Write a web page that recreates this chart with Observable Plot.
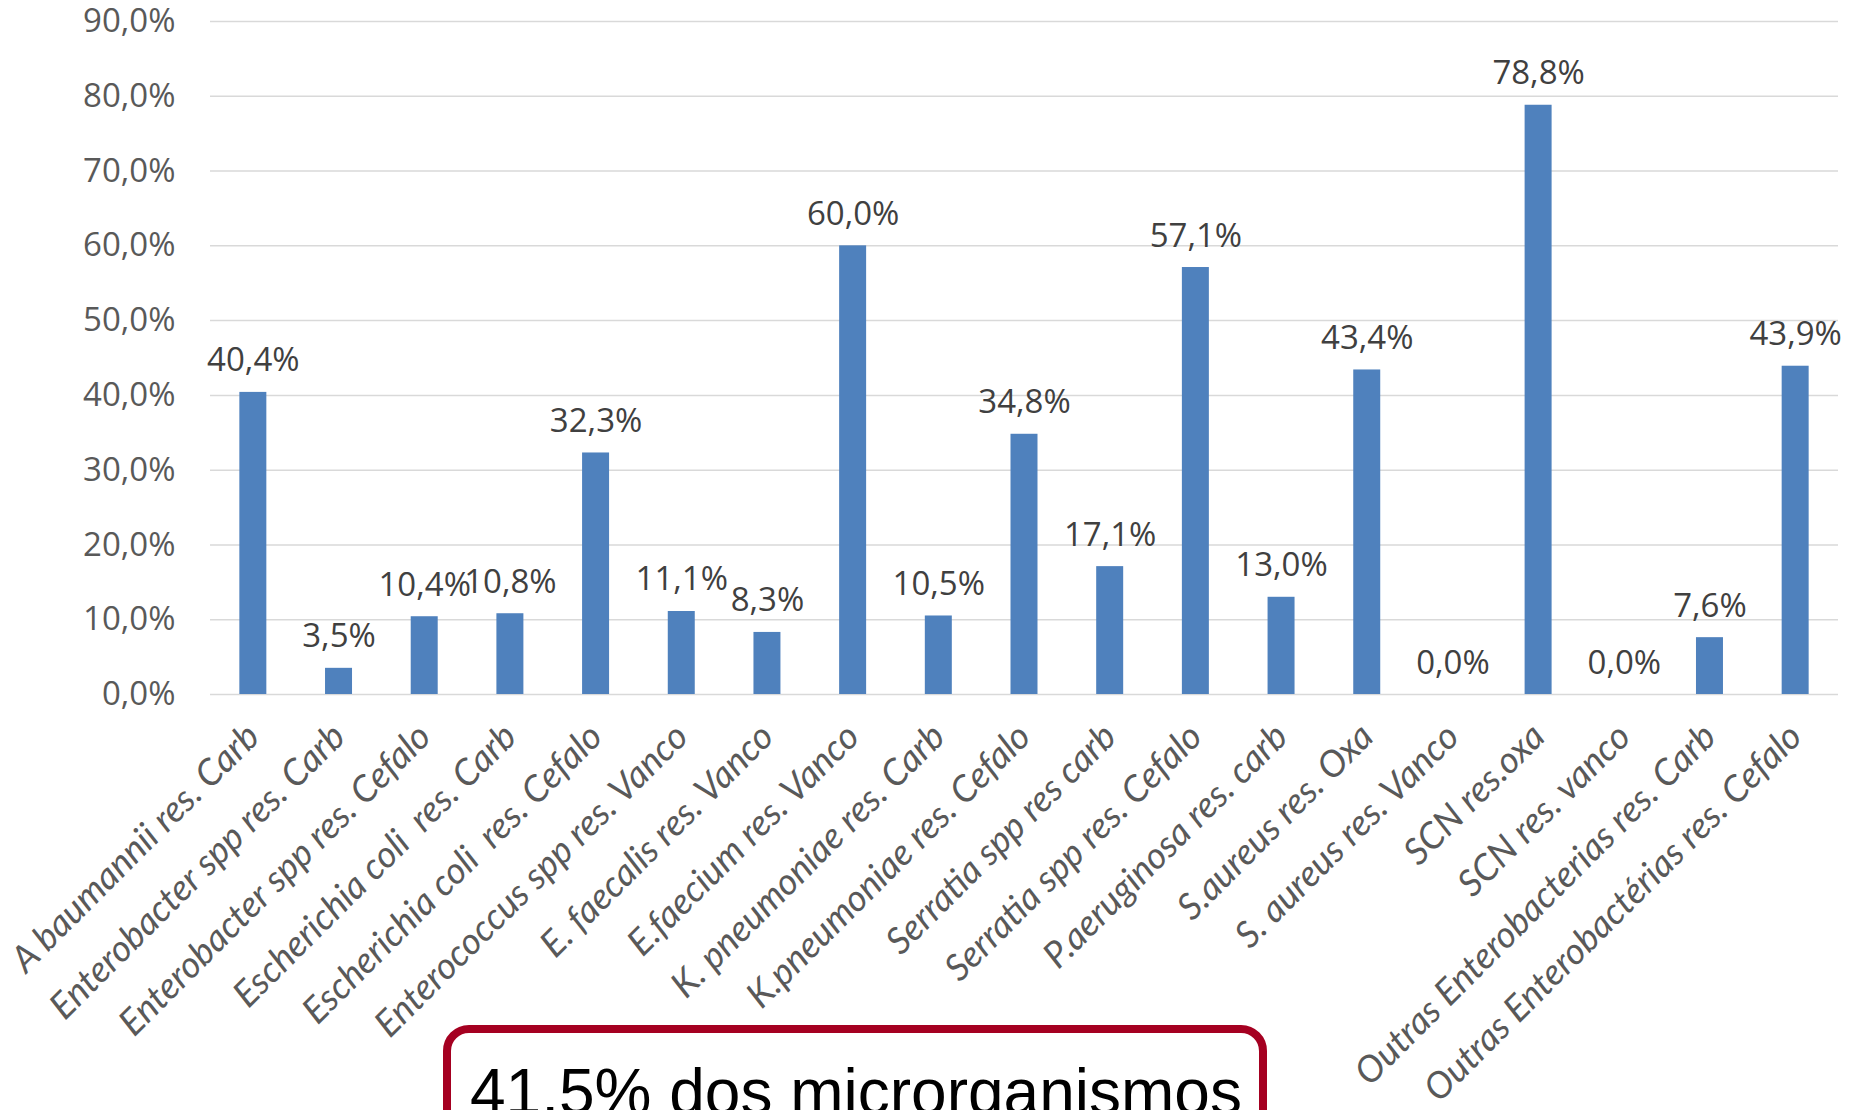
<!DOCTYPE html>
<html><head><meta charset="utf-8">
<script src="https://cdn.jsdelivr.net/npm/d3@7"></script>
<script src="https://cdn.jsdelivr.net/npm/@observablehq/plot@0.6"></script>
<style>
html,body{margin:0;padding:0;background:#fff;overflow:hidden;width:1853px;height:1110px;}
#chart{position:absolute;left:0;top:0;}
#chart svg text{white-space:pre;}
#chart g[aria-label="x-axis tick label"] text{font-style:italic;}
#note{position:absolute;left:443px;top:1025px;width:808px;height:150px;border:8px solid #a50021;border-radius:26px;box-sizing:content-box;background:#fff;}
#note span{position:absolute;left:19px;top:27px;font-family:"Liberation Sans",Arial,sans-serif;font-size:64px;line-height:1;color:#000;white-space:nowrap;}
</style></head><body>
<div id="chart"></div>
<div id="note"><span id="noteText"></span></div>
<script>
const categories = [
  "A baumannii res. Carb",
  "Enterobacter spp res. Carb",
  "Enterobacter spp res. Cefalo",
  "Escherichia coli  res. Carb",
  "Escherichia coli  res. Cefalo",
  "Enterococcus spp res. Vanco",
  "E. faecalis res. Vanco",
  "E.faecium res. Vanco",
  "K. pneumoniae res. Carb",
  "K.pneumoniae res. Cefalo",
  "Serratia spp res carb",
  "Serratia spp res. Cefalo",
  "P.aeruginosa res. carb",
  "S.aureus res. Oxa",
  "S. aureus res. Vanco",
  "SCN res.oxa",
  "SCN res. vanco",
  "Outras Enterobacterias res. Carb",
  "Outras Enterobactérias res. Cefalo"
];
const values = [40.4, 3.5, 10.4, 10.8, 32.3, 11.1, 8.3, 60.0, 10.5, 34.8, 17.1, 57.1, 13.0, 43.4, 0.0, 78.8, 0.0, 7.6, 43.9];
const yTicks = [0, 10, 20, 30, 40, 50, 60, 70, 80, 90];
const noteText = "41,5% dos microrganismos";

const data = categories.map((c, i) => ({category: c, value: values[i]}));
const fmt = v => v.toFixed(1).replace(".", ",") + "%";

const chart = Plot.plot({
  width: 1853, height: 1110,
  marginLeft: 210, marginRight: 15, marginTop: 21, marginBottom: 416,
  style: {fontFamily: "'Open Sans', sans-serif", background: "#fff"},
  x: {domain: categories, paddingInner: 0.685, paddingOuter: 0.3425, round: false, label: null},
  y: {domain: [0, 90], label: null},
  marks: [
    Plot.gridY(yTicks, {stroke: "#d9d9d9", strokeOpacity: 1, strokeWidth: 1.5}),
    Plot.axisY(yTicks, {tickSize: 0, tickPadding: 35, tickFormat: fmt, fontSize: 33, fill: "#595959", label: null}),
    Plot.barY(data, {x: "category", y: "value", fill: "#4f81bd"}),
    Plot.text(data, {x: "category", y: "value", text: d => fmt(d.value), dy: -21, lineAnchor: "bottom", fontSize: 33, fill: "#404040"}),
    Plot.axisX({tickSize: 0, tickRotate: -45, tickPadding: 36, fontSize: 36.5, fill: "#595959", fontFamily: "Lato", fontStyle: "italic", label: null})
  ]
});
document.getElementById("chart").appendChild(chart);
document.getElementById("noteText").textContent = noteText;
</script>
</body></html>
